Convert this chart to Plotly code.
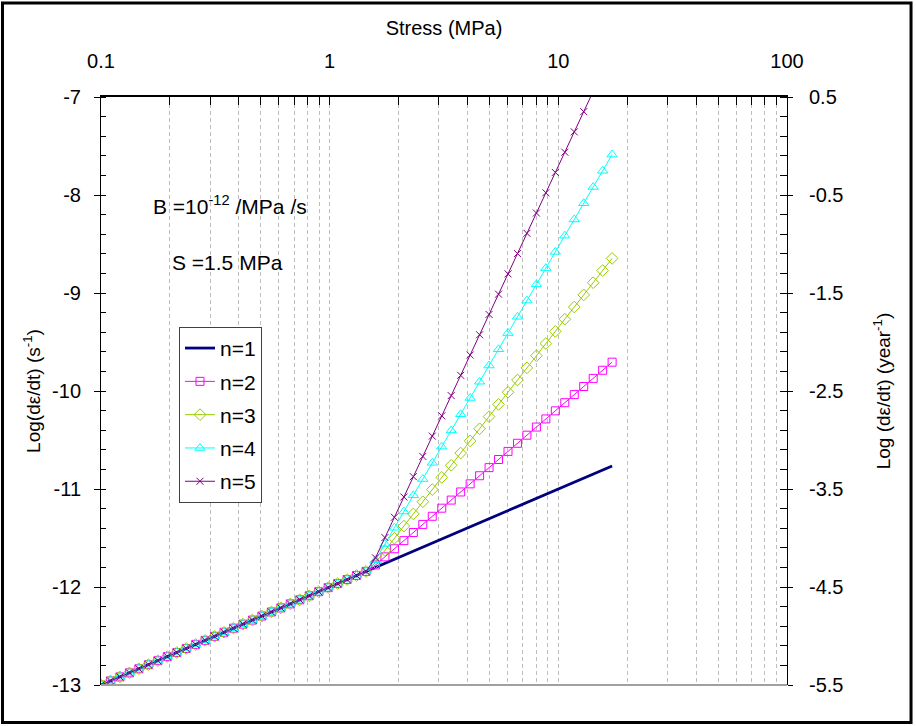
import plotly.graph_objects as go

# Stress (MPa) sample points
stress = [0.1, 0.11, 0.121, 0.1331, 0.1464, 0.1611, 0.1772, 0.1949, 0.2144, 0.2358,
          0.2594, 0.2853, 0.3138, 0.3452, 0.3797, 0.4177, 0.4595, 0.5054, 0.5560, 0.6116,
          0.6727, 0.7400, 0.8140, 0.8954, 0.9850, 1.0835, 1.1918, 1.3110, 1.4421, 1.5863,
          1.7449, 1.9194, 2.1114, 2.3225, 2.5548, 2.8102, 3.0913, 3.4004, 3.7404, 4.1145,
          4.5259, 4.9785, 5.4764, 6.0240, 6.6264, 7.2890, 8.0180, 8.8197, 9.7017, 10.6719,
          11.7391, 12.9130, 14.2043, 15.6247, 17.1872]

# log strain rate (s^-1) below S = 1.5 MPa (common to all n)
rate_low = [-13.0000, -12.9586, -12.9172, -12.8758, -12.8344, -12.7930, -12.7516, -12.7102,
            -12.6689, -12.6275, -12.5861, -12.5447, -12.5033, -12.4619, -12.4205, -12.3791,
            -12.3377, -12.2963, -12.2549, -12.2135, -12.1721, -12.1307, -12.0893, -12.0480,
            -12.0066, -11.9652, -11.9238, -11.8824, -11.8410]

# log strain rate above S for each n
rate_n1 = [-11.7996, -11.7582, -11.7168, -11.6754, -11.6340, -11.5926, -11.5512, -11.5098,
           -11.4685, -11.4271, -11.3857, -11.3443, -11.3029, -11.2615, -11.2201, -11.1787,
           -11.1373, -11.0959, -11.0545, -11.0131, -10.9717, -10.9303, -10.8890, -10.8476,
           -10.8062, -10.7648]
rate_n2 = [-11.7753, -11.6925, -11.6097, -11.5269, -11.4441, -11.3613, -11.2785, -11.1957,
           -11.1131, -11.0303, -10.9475, -10.8647, -10.7819, -10.6991, -10.6163, -10.5335,
           -10.4507, -10.3679, -10.2851, -10.2023, -10.1195, -10.0367, -9.9541, -9.8713,
           -9.7885, -9.7057]
rate_n3 = [-11.7510, -11.6268, -11.5026, -11.3784, -11.2542, -11.1300, -11.0058, -10.8816,
           -10.7577, -10.6335, -10.5093, -10.3851, -10.2609, -10.1367, -10.0125, -9.8883,
           -9.7641, -9.6399, -9.5157, -9.3915, -9.2673, -9.1431, -9.0192, -8.8950,
           -8.7708, -8.6466]
rate_n4 = [-11.7267, -11.5611, -11.3955, -11.2299, -11.0643, -10.8987, -10.7331, -10.5675,
           -10.4023, -10.2367, -10.0711, -9.9055, -9.7399, -9.5743, -9.4087, -9.2431,
           -9.0775, -8.9119, -8.7463, -8.5807, -8.4151, -8.2495, -8.0843, -7.9187,
           -7.7531, -7.5875]
rate_n5 = [-11.7024, -11.4954, -11.2884, -11.0814, -10.8744, -10.6674, -10.4604, -10.2534,
           -10.0469, -9.8399, -9.6329, -9.4259, -9.2189, -9.0119, -8.8049, -8.5979,
           -8.3909, -8.1839, -7.9769, -7.7699, -7.5629, -7.3559, -7.1494, -6.9424,
           -6.7354, -6.5284]

series_names = ["n=1", "n=2", "n=3", "n=4", "n=5"]
series_upper = [rate_n1, rate_n2, rate_n3, rate_n4, rate_n5]

x_ticks = [0.1, 1, 10, 100]
x_ticklabels = ["0.1", "1", "10", "100"]
x_minor = [0.2, 0.3, 0.4, 0.5, 0.6, 0.7, 0.8, 0.9, 2, 3, 4, 5, 6, 7, 8, 9,
           20, 30, 40, 50, 60, 70, 80, 90]
yl_ticks = [-7, -8, -9, -10, -11, -12, -13]
yl_labels = ["-7", "-8", "-9", "-10", "-11", "-12", "-13"]
yr_ticks = [0.5, -0.5, -1.5, -2.5, -3.5, -4.5, -5.5]
yr_labels = ["0.5", "-0.5", "-1.5", "-2.5", "-3.5", "-4.5", "-5.5"]

styles = [
    dict(color="#000080", width=2.8, symbol=None),
    dict(color="#FF00FF", width=1, symbol="square-open", size=8),
    dict(color="#99CC00", width=1, symbol="diamond-open", size=9),
    dict(color="#00FFFF", width=1, symbol="triangle-up-open", size=9),
    dict(color="#800080", width=1, symbol="x-thin-open", size=7),
]

FONT = "Liberation Sans, Arial, sans-serif"
fig = go.Figure()

for i, (name, upper, st) in enumerate(zip(series_names, series_upper, styles)):
    y = rate_low + upper
    if st["symbol"] is None:
        fig.add_trace(go.Scatter(x=stress, y=y, mode="lines", name=name,
                                 line=dict(color=st["color"], width=st["width"]),
                                 legendgroup=name))
    else:
        fig.add_trace(go.Scatter(x=stress, y=y, mode="lines+markers", name=name,
                                 line=dict(color=st["color"], width=st["width"]),
                                 marker=dict(symbol=st["symbol"], size=st["size"],
                                             color=st["color"],
                                             line=dict(color=st["color"], width=1)),
                                 legendgroup=name))

# invisible traces to anchor auxiliary axes
for ya in ["y2", "y3", "y4"]:
    fig.add_trace(go.Scatter(x=[None], y=[None], yaxis=ya, showlegend=False,
                             hoverinfo="skip"))

grid_col = "#BDBDBD"
fig.update_layout(
    width=916, height=726,
    margin=dict(l=101, r=129, t=97, b=41),
    paper_bgcolor="white", plot_bgcolor="white",
    font=dict(family=FONT, size=20, color="black"),
    showlegend=True,
    legend=dict(x=0.1137, y=0.609, xanchor="left", yanchor="top",
                bordercolor="#404040", borderwidth=1, bgcolor="white",
                font=dict(size=21), tracegroupgap=3, traceorder="grouped"),
    xaxis=dict(type="log", side="top", range=[-1, 2],
               tickvals=x_ticks, ticktext=x_ticklabels,
               ticks="inside", ticklen=8, tickcolor="black",
               ticklabelstandoff=19, tickfont=dict(size=20),
               showline=True, linecolor="black", linewidth=1.5,
               showgrid=True, gridcolor=grid_col, griddash="4px,3px", gridwidth=1,
               zeroline=False,
               minor=dict(tickvals=x_minor, ticks="inside", ticklen=8,
                          tickcolor="black", showgrid=True, gridcolor=grid_col,
                          griddash="4px,3px", gridwidth=1),
               title=dict(text="Stress (MPa)", font=dict(size=20), standoff=9)),
    yaxis=dict(range=[-13, -7], tickvals=yl_ticks, ticktext=yl_labels,
               ticks="outside", ticklen=6, tickcolor="black",
               ticklabelstandoff=9, tickfont=dict(size=20),
               showline=True, linecolor="black", linewidth=1,
               showgrid=False, zeroline=False,
               minor=dict(dtick=0.2, tick0=-13, ticks="inside", ticklen=5,
                          tickcolor="black", showgrid=False),
               title=dict(text="Log(dε/dt) (s<sup>-1</sup>)", font=dict(size=19),
                          standoff=6)),
    yaxis2=dict(range=[-5.5, 0.5], overlaying="y", side="right",
                tickvals=yr_ticks, ticktext=yr_labels,
                ticks="outside", ticklen=5, tickcolor="black",
                ticklabelstandoff=12, tickfont=dict(size=20),
                showline=True, linecolor="black", linewidth=1,
                showgrid=False, zeroline=False,
                minor=dict(dtick=0.2, tick0=-5.5, ticks="inside", ticklen=7,
                           tickcolor="black", showgrid=False),
                title=dict(text="Log (dε/dt) (year<sup>-1</sup>)", font=dict(size=19),
                           standoff=34)),
    yaxis3=dict(range=[-13, -7], overlaying="y", side="left",
                tickvals=yl_ticks, ticks="inside", ticklen=5, tickcolor="black",
                showticklabels=False, showline=False, showgrid=False, zeroline=False),
    yaxis4=dict(range=[-5.5, 0.5], overlaying="y", side="right",
                tickvals=yr_ticks, ticks="inside", ticklen=7, tickcolor="black",
                showticklabels=False, showline=False, showgrid=False, zeroline=False),
    annotations=[
        dict(text="B =10<sup>-12</sup> /MPa /s", x=0.188, y=0.816, xref="paper",
             yref="paper", xanchor="center", yanchor="middle", showarrow=False,
             font=dict(size=21)),
        dict(text="S =1.5 MPa", x=0.185, y=0.718, xref="paper", yref="paper",
             xanchor="center", yanchor="middle", showarrow=False,
             font=dict(size=21)),
    ],
    shapes=[
        dict(type="line", xref="paper", yref="paper", x0=0, x1=1, y0=0, y1=0,
             line=dict(color="#A0A0A0", width=2)),
        dict(type="rect", xref="paper", yref="paper", x0=-0.1436, x1=1.1808,
             y0=-0.0638, y1=1.1599, line=dict(color="black", width=3),
             layer="above"),
    ],
)

fig.write_html("out.html")
